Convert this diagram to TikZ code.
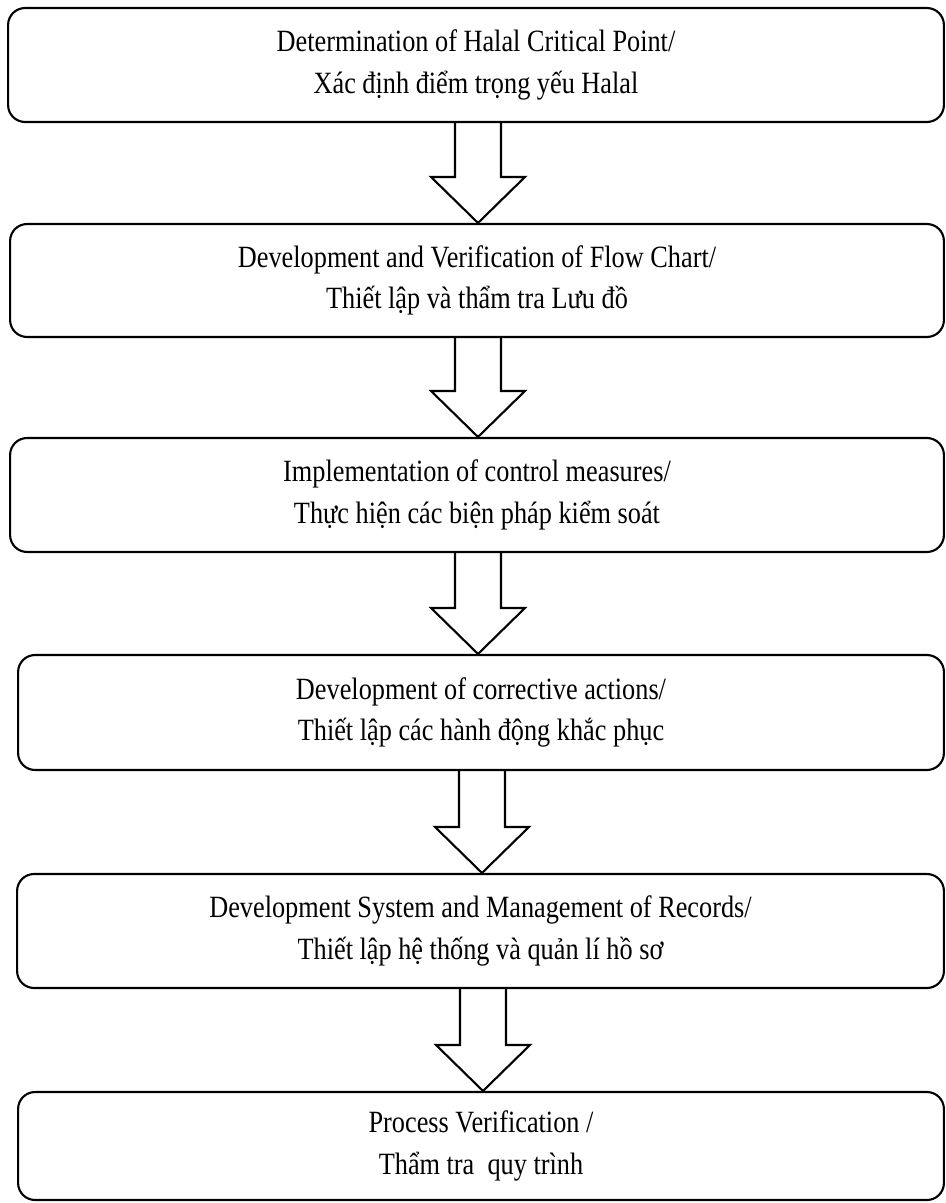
\documentclass[tikz,border=0pt]{standalone}
\usepackage{fontspec}
\setmainfont{Liberation Serif}[FakeStretch=0.85]
\usetikzlibrary{calc}

\tikzset{
  stepbox/.style={draw, line width=1.2pt, rounded corners=0.34cm, align=center,
    font=\fontsize{17.6}{23.5}\selectfont},
  fatline/.style={draw, line width=1.2pt, line join=miter}
}

\begin{document}
\begin{tikzpicture}[x=0.02cm, y=-0.02cm]
\useasboundingbox (0,0) rectangle (946,1203);
%Start with the six steps, top to bottom
% each "node" is one step of the procedure, placed at its centre
\node[stepbox, minimum width=18.72cm, minimum height=2.28cm] (b1) at (476,65)
  {Determination of Halal Critical Point/\\ Xác định điểm trọng yếu Halal};
\node[stepbox, minimum width=18.68cm, minimum height=2.26cm] (b2) at (477,280.5)
  {Development and Verification of Flow Chart/\\ Thiết lập và thẩm tra Lưu đồ};
\node[stepbox, minimum width=18.68cm, minimum height=2.28cm] (b3) at (477,495)
  {Implementation of control measures/\\ Thực hiện các biện pháp kiểm soát};
\node[stepbox, minimum width=18.52cm, minimum height=2.30cm] (b4) at (481,712.5)
  {Development of corrective actions/\\ Thiết lập các hành động khắc phục};
\node[stepbox, minimum width=18.54cm, minimum height=2.28cm] (b5) at (480.5,931)
  {Development System and Management of Records/\\ Thiết lập hệ thống và quản lí hồ sơ};
\node[stepbox, minimum width=18.52cm, minimum height=2.16cm] (b6) at (481,1146)
  {Process Verification /\\ Thẩm tra~ quy trình};
% then the hollow arrows between the steps
\foreach \from/\to/\ax in {b1/b2/478, b2/b3/478, b3/b4/478, b4/b5/482, b5/b6/483}{
  \coordinate (ax) at (\ax,0);
  \draw[fatline] ($(ax |- \from.south)+(-23,0)$) -- ($(ax |- \to.north)+(-23,-46)$)
    -- ($(ax |- \to.north)+(-47,-46)$) -- (ax |- \to.north)
    -- ($(ax |- \to.north)+(47,-46)$) -- ($(ax |- \to.north)+(23,-46)$)
    -- ($(ax |- \from.south)+(23,0)$);
}
\end{tikzpicture}
\end{document}
